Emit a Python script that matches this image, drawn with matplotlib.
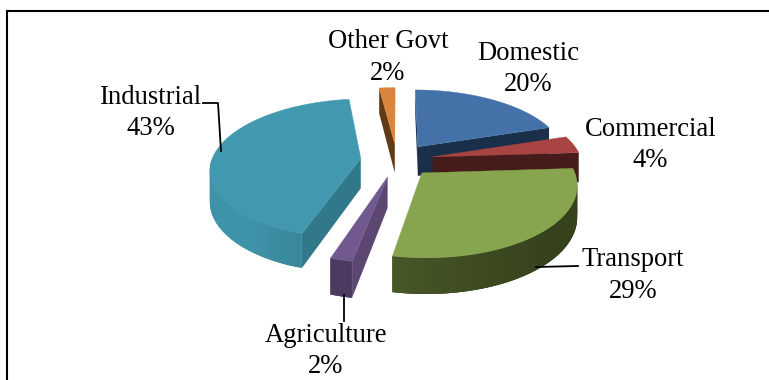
import numpy as np
import matplotlib
matplotlib.use('Agg')
from matplotlib import pyplot as plt
from matplotlib.colors import to_rgb
from matplotlib.patches import Polygon

# data, clockwise from 12 o'clock
categories = ['Domestic', 'Commercial', 'Transport', 'Agriculture', 'Industrial', 'Other Govt']
shares = [20, 4, 29, 2, 43, 2]

top_colors = ['#4472a8', '#a84442', '#87a54e', '#71588f', '#4198af', '#db843d']
face_colors = ['#1a2f4a', '#451c1a', '#36431c', '#5c4672', '#31788a', '#5f3a15']
wall_left = ['#1a2f4a', '#451c1a', '#566a30', '#4d3a61', '#3f93a9', '#5f3a15']
wall_right = ['#1a2f4a', '#451c1a', '#36421c', '#4d3a61', '#2e6e80', '#5f3a15']

draw_order = [5, 0, 1, 4, 2, 3]

# label text position (px), one per category
label_x = [528, 650.5, 633, 326, 151, 388]
label_y = [69, 145, 275.5, 351, 113, 57.5]

CX, CY = 397, 160
R = 149
TILT = 0.46
PERSP = 0.144
DEPTH = 30
EXPLODE = 0.245


def project(x, y, z=0.0):
    """unit-disc coordinates to pixels, the front of the pie comes out bigger"""
    f = 1 / (1 + PERSP * y)
    return np.column_stack([CX + R * x * f, CY - R * TILT * y * f + DEPTH * z * f])


def facing(quad):
    x, y = quad[:, 0], quad[:, 1]
    area = np.sum(x * np.roll(y, -1) - np.roll(x, -1) * y)
    return area < 0


def drawSlice(ax, a0, a1, i):
    """a0 > a1, degrees, one exploded slice"""
    mid = np.radians((a0 + a1) / 2)
    ox, oy = EXPLODE * np.cos(mid), EXPLODE * np.sin(mid)
    t = np.radians(np.linspace(a0, a1, 80))
    x = ox + np.cos(t)
    y = oy + np.sin(t)

    # the two cut faces
    for ex, ey in [(x[0], y[0]), (x[-1], y[-1])]:
        xs = np.array([ox, ex, ex, ox])
        ys = np.array([oy, ey, ey, oy])
        zs = np.array([0, 0, 1, 1])
        quad = project(xs, ys, zs)
        if ex == x[-1]:
            quad = quad[::-1]
        if facing(quad):
            ax.add_patch(Polygon(quad, closed=True, fc=face_colors[i], ec='none'))

    # outer wall in strips so it can carry a gradient
    # each strip overlaps the next one, otherwise the antialiasing leaves seams
    c0, c1 = np.array(to_rgb(wall_left[i])), np.array(to_rgb(wall_right[i]))
    order = range(len(t) - 1)
    for j in order:
        if np.sin(t[j]) + np.sin(t[j + 1]) > 0:
            continue
        k = min(j + 3, len(t) - 1)
        while k > j + 1 and np.sin(t[k]) > 0:
            k -= 1
        xs = np.r_[x[j:k + 1], x[j:k + 1][::-1]]
        ys = np.r_[y[j:k + 1], y[j:k + 1][::-1]]
        zs = np.r_[np.zeros(k + 1 - j), np.ones(k + 1 - j)]
        quad = project(xs, ys, zs)
        pos = (quad[:, 0].mean() - (CX - R)) / (2 * R)
        col = c0 + (c1 - c0) * np.clip(pos if i != 4 else pos * 2.2, 0, 1)
        ax.add_patch(Polygon(quad, closed=True, fc=col, ec='none'))

    # top
    top = project(np.r_[ox, x], np.r_[oy, y])
    ax.add_patch(Polygon(top, closed=True, fc=top_colors[i], ec=top_colors[i], lw=0.3))


fig = plt.figure(figsize=(7.69, 3.80), dpi=100)
ax = fig.add_axes([0, 0, 1, 1])
ax.set_xlim(0, 769)
ax.set_ylim(380, 0)
ax.axis('off')

# frame, open at the bottom
ax.plot([7, 7, 769], [380, 11, 11], color='black', lw=1.5, solid_joinstyle='miter')

edges = 90 - np.cumsum([0] + shares) * 3.6
for i in draw_order:
    drawSlice(ax, edges[i], edges[i + 1], i)

# leader lines
ax.plot([203, 218, 221], [103, 103, 151], color='black', lw=1.3)
ax.plot([536, 578], [267, 266], color='black', lw=1.3)
ax.plot([344, 344], [295, 321], color='black', lw=1.3)

for i, name in enumerate(categories):
    ax.text(label_x[i], label_y[i], f'{name}\n{shares[i]}%', ha='center', va='center',
            family='Liberation Serif', fontsize=19.2, linespacing=1.33, color='black')

plt.savefig('out.png', dpi=100)
